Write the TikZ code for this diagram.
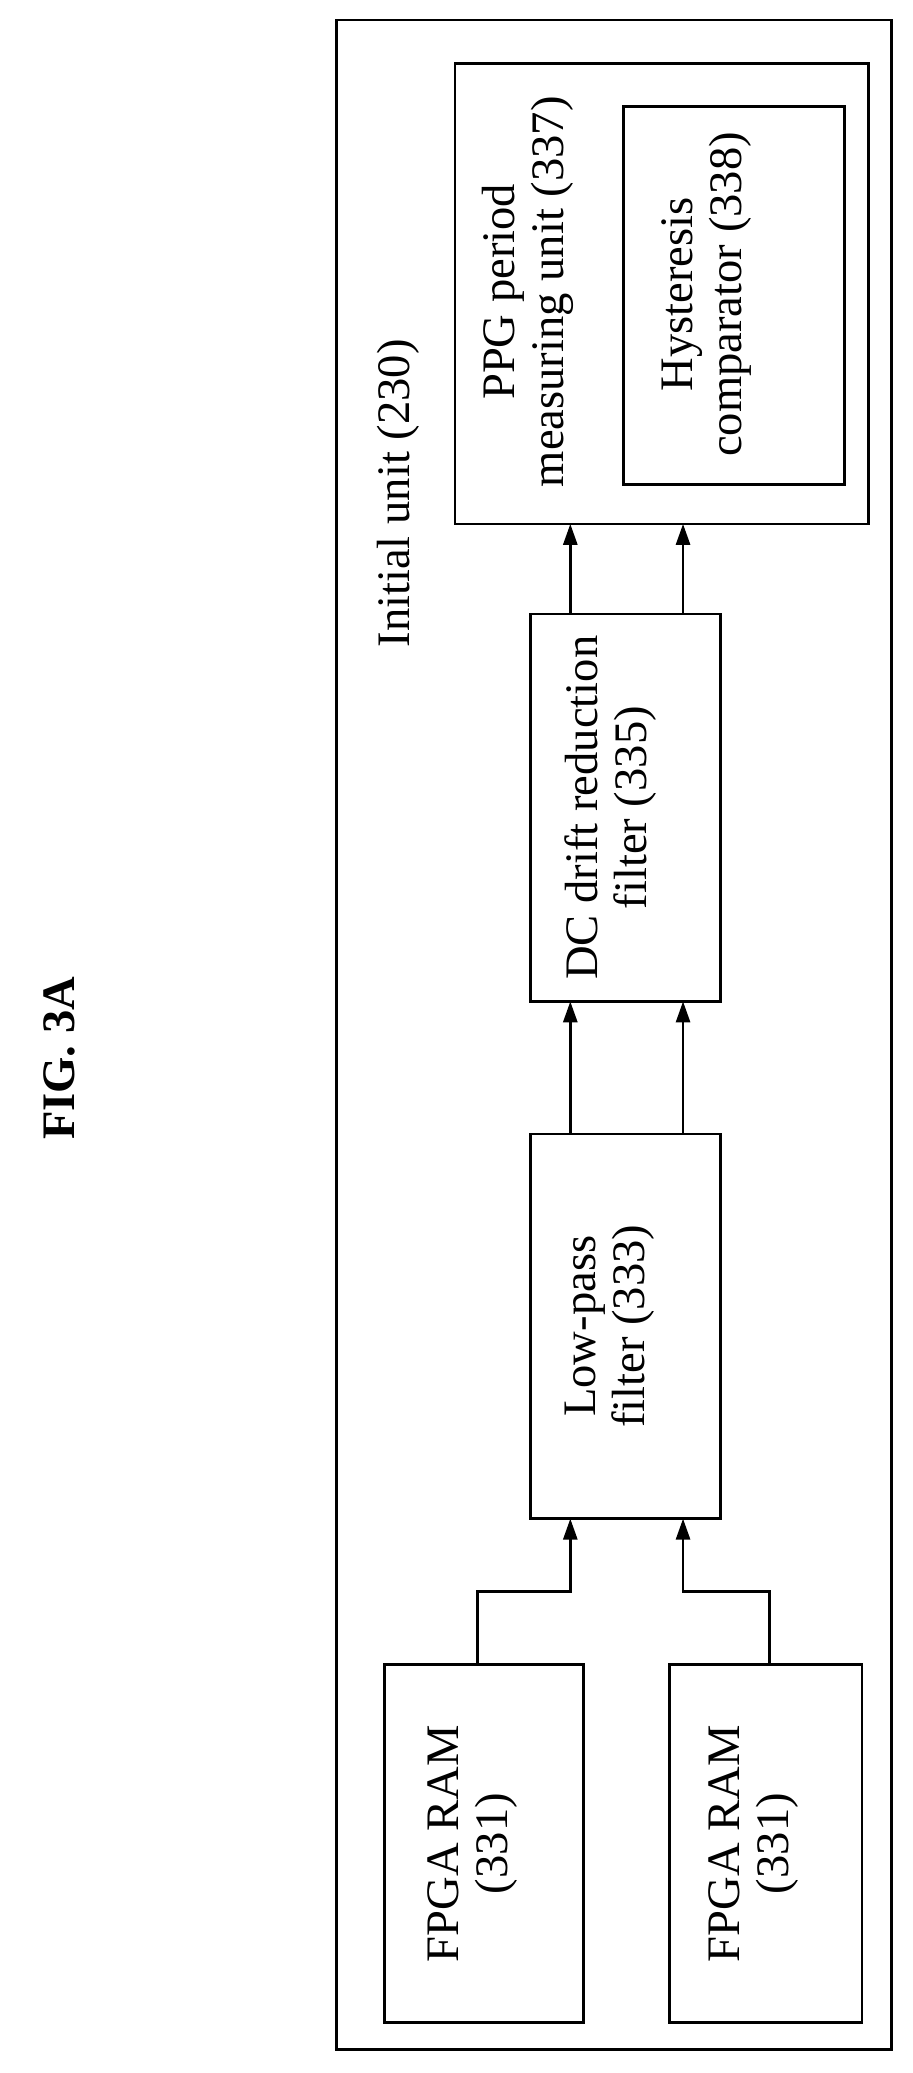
\documentclass[tikz,border=0pt]{standalone}
\usepackage{fontspec}
\setmainfont{Liberation Serif}
\usetikzlibrary{arrows.meta}
\begin{document}
\begin{tikzpicture}[x=0.02cm,y=-0.02cm,
  box/.style={draw,line width=1.2pt},
  lbl/.style={rotate=90,align=center,font=\fontsize{20}{21}\selectfont},
  arr/.style={line width=1.2pt,-{Triangle[length=9pt,width=6pt]}}]
\useasboundingbox (0,0) rectangle (688,1563);
\draw[box] (254,15) rectangle (672,1545);
\node[rotate=90,font=\bfseries\fontsize{20}{21}\selectfont] (fig) at (45,798) {FIG. 3A};
\node[lbl] (init) at (300,372) {Initial unit (230)};
\draw[box] (343,48) rectangle (655,395);
\node[lbl] (ppg) at (398,220) {PPG period\\measuring unit (337)};
\draw[box] (470,80) rectangle (637,365);
\node[lbl] (hys) at (533,222) {Hysteresis\\comparator (338)};
\draw[box] (400,463) rectangle (543,755);
\node[lbl] (dc) at (460,609) {DC drift reduction\\filter (335)};
\draw[box] (400,855) rectangle (543,1145);
\node[lbl] (lp) at (460,1000) {Low-pass\\filter (333)};
\draw[box] (290,1255) rectangle (440,1525);
\node[lbl] (f1) at (356,1390) {FPGA RAM\\(331)};
\draw[box] (505,1255) rectangle (650,1525);
\node[lbl] (f2) at (568,1390) {FPGA RAM\\(331)};
\coordinate (a1) at (360,1255); \coordinate (a2) at (580,1255);
\draw[arr] (a1) -- (360,1200) -- (430,1200) -- (430,1145);
\draw[arr] (a2) -- (580,1200) -- (515,1200) -- (515,1145);
\draw[arr] (430,855) -- (430,755);
\draw[arr] (515,855) -- (515,755);
\draw[arr] (430,463) -- (430,395);
\draw[arr] (515,463) -- (515,395);
\end{tikzpicture}
\end{document}
